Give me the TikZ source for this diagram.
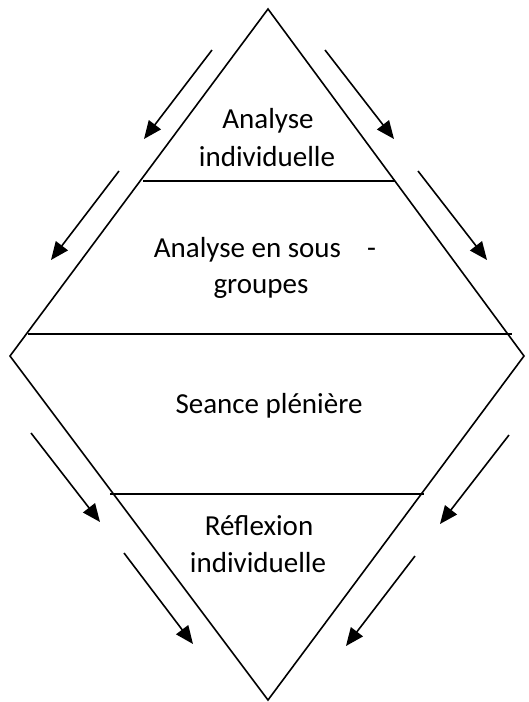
\documentclass[tikz,border=0pt]{standalone}
\usepackage{fontspec}
\setmainfont{Carlito}
\usetikzlibrary{arrows.meta}
\begin{document}
\begin{tikzpicture}[x=1pt,y=-1pt,
  edge/.style={line width=1.6pt,line join=miter},
  flow/.style={line width=1.6pt,-{Triangle[length=18pt,width=15pt]}},
  lbl/.style={anchor=base,font=\fontsize{29}{38}\selectfont,inner sep=0pt}]
\useasboundingbox (0,0) rectangle (528,702);
% diamond corners
\coordinate (T) at (268,9);
\coordinate (L) at (10,356);
\coordinate (R) at (524,356);
\coordinate (B) at (268,700);
\draw[edge] (L) -- (T) -- (R) -- (B) -- cycle;
% dividing lines
\coordinate (l1a) at (143,181); \coordinate (l1b) at (395,181);
\coordinate (l2a) at (28,334);  \coordinate (l2b) at (512,334);
\coordinate (l3a) at (110,494); \coordinate (l3b) at (424,494);
\draw[edge] (l1a) -- (l1b);
\draw[edge] (l2a) -- (l2b);
\draw[edge] (l3a) -- (l3b);
% labels
\node[lbl] (t1a) at (268,128) {Analyse};
\node[lbl] (t1b) at (267,166) {individuelle};
\node[lbl] (t2a) at (265,257) {Analyse en sous\ \ \ \ -};
\node[lbl] (t2b) at (261,293) {groupes};
\node[lbl] (t3) at (269,413) {Seance plénière};
\node[lbl] (t4a) at (259,535) {Réflexion};
\node[lbl] (t4b) at (258,572) {individuelle};
% arrows
\coordinate (a1s) at (212,50);  \coordinate (a1e) at (144,139);
\coordinate (a2s) at (119,171); \coordinate (a2e) at (51,260);
\coordinate (a3s) at (325,50);  \coordinate (a3e) at (394,139);
\coordinate (a4s) at (418,171); \coordinate (a4e) at (487,260);
\coordinate (a5s) at (31,433);  \coordinate (a5e) at (100,522);
\coordinate (a6s) at (124,553); \coordinate (a6e) at (193,644);
\coordinate (a7s) at (509,435); \coordinate (a7e) at (440,524);
\coordinate (a8s) at (415,556); \coordinate (a8e) at (346,646);
\draw[flow] (a1s) -- (a1e);
\draw[flow] (a2s) -- (a2e);
\draw[flow] (a3s) -- (a3e);
\draw[flow] (a4s) -- (a4e);
\draw[flow] (a5s) -- (a5e);
\draw[flow] (a6s) -- (a6e);
\draw[flow] (a7s) -- (a7e);
\draw[flow] (a8s) -- (a8e);
\end{tikzpicture}
\end{document}
